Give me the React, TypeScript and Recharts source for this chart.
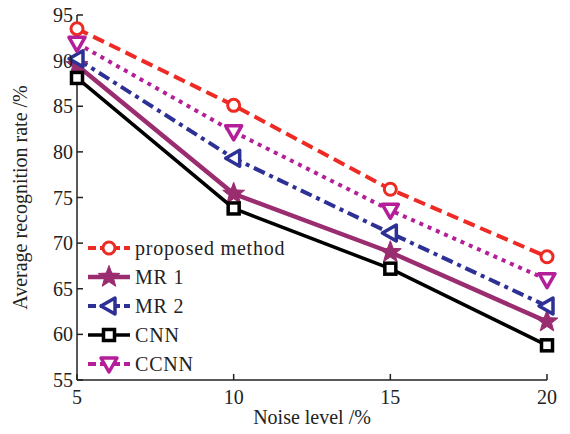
import React from 'react';
import { LineChart, Line, XAxis, YAxis, Legend } from 'recharts';

const noiseLevels = [5, 10, 15, 20];
const proposed = [93.5, 85.1, 75.9, 68.5];
const mr1 = [89.5, 75.4, 69.0, 61.4];
const mr2 = [90.2, 79.3, 71.1, 63.1];
const cnn = [88.1, 73.8, 67.2, 58.8];
const ccnn = [91.9, 82.2, 73.6, 66.0];
const yTicks = [55, 60, 65, 70, 75, 80, 85, 90, 95];

const data = noiseLevels.map((n, i) => ({
  noise: n,
  proposed: proposed[i],
  mr1: mr1[i],
  mr2: mr2[i],
  cnn: cnn[i],
  ccnn: ccnn[i],
}));

const FONT = '"Liberation Serif", "DejaVu Serif", serif';
const RED = '#ee2a24';
const PURPLE = '#9a2d6f';
const BLUE = '#2d3094';
const BLACK = '#000000';
const MAGENTA = '#b41e98';

type Shape = 'circle' | 'star' | 'left' | 'square' | 'down';

function Marker({ shape, cx, cy, color }: { shape: Shape; cx: number; cy: number; color: string }) {
  if (shape === 'circle') {
    return <circle cx={cx} cy={cy} r={6} fill="#fff" stroke={color} strokeWidth={3} />;
  }
  if (shape === 'star') {
    const pts: string[] = [];
    for (let k = 0; k < 10; k++) {
      const r = k % 2 === 0 ? 11.5 : 4.8;
      const a = -Math.PI / 2 + (k * Math.PI) / 5;
      pts.push(`${cx + r * Math.cos(a)},${cy + r * Math.sin(a)}`);
    }
    return <polygon points={pts.join(' ')} fill={color} stroke={color} strokeWidth={1} />;
  }
  if (shape === 'left') {
    return (
      <polygon
        points={`${cx - 8},${cy} ${cx + 6},${cy - 8} ${cx + 6},${cy + 8}`}
        fill="#fff"
        stroke={color}
        strokeWidth={3.5}
        strokeLinejoin="round"
      />
    );
  }
  if (shape === 'down') {
    return (
      <polygon
        points={`${cx},${cy + 8} ${cx - 8},${cy - 6} ${cx + 8},${cy - 6}`}
        fill="#fff"
        stroke={color}
        strokeWidth={3.5}
        strokeLinejoin="round"
      />
    );
  }
  return <rect x={cx - 5.5} y={cy - 5.5} width={11} height={11} fill="#fff" stroke={color} strokeWidth={3.5} />;
}

const series = [
  { key: 'proposed', name: 'proposed method', color: RED, dash: '12 6', width: 4, shape: 'circle' as Shape },
  { key: 'mr1', name: 'MR 1', color: PURPLE, dash: undefined, width: 4.5, shape: 'star' as Shape },
  { key: 'mr2', name: 'MR 2', color: BLUE, dash: '12 5 4 5', width: 4, shape: 'left' as Shape },
  { key: 'cnn', name: 'CNN', color: BLACK, dash: undefined, width: 3.5, shape: 'square' as Shape },
  { key: 'ccnn', name: 'CCNN', color: MAGENTA, dash: '4 5', width: 4, shape: 'down' as Shape },
];

function LegendBox() {
  return (
    <svg width={240} height={150} style={{ display: 'block' }}>
      {series.map((s, i) => {
        const y = 14 + i * 29;
        return (
          <g key={s.key}>
            <line x1={4} x2={46} y1={y} y2={y} stroke={s.color} strokeWidth={s.width} strokeDasharray={s.dash ? '8 4' : undefined} />
            <Marker shape={s.shape} cx={25} cy={y} color={s.color} />
            <text x={51} y={y + 7} fontFamily={FONT} fontSize={20} letterSpacing={0.8} fill="#222">
              {s.name}
            </text>
          </g>
        );
      })}
    </svg>
  );
}

export default function App() {
  return (
    <div style={{ width: 570, height: 434, margin: -8, background: '#fff' }}>
      <LineChart width={570} height={434} data={data} margin={{ top: 15, right: 23, bottom: 0, left: 0 }}>
        <XAxis
          dataKey="noise"
          type="number"
          domain={[5, 20]}
          ticks={noiseLevels}
          interval={0}
          height={54}
          tickSize={-6}
          tickMargin={16}
          tick={{ fill: '#222', fontSize: 20, fontFamily: FONT }}
          axisLine={{ stroke: '#222', strokeWidth: 1.5 }}
          tickLine={{ stroke: '#222', strokeWidth: 1.5 }}
          label={{ value: 'Noise level /%', position: 'insideBottom', offset: 10, fill: '#222', fontSize: 20, fontFamily: FONT }}
        />
        <XAxis xAxisId="top" dataKey="noise" type="number" domain={[5, 20]} orientation="top" height={0} tick={false} tickLine={false} axisLine={{ stroke: '#222', strokeWidth: 1.5 }} />
        <YAxis
          type="number"
          domain={[55, 95]}
          ticks={yTicks}
          interval={0}
          width={77}
          tickSize={-6}
          tickMargin={10}
          tick={{ fill: '#222', fontSize: 20, fontFamily: FONT }}
          axisLine={{ stroke: '#222', strokeWidth: 1.5 }}
          tickLine={{ stroke: '#222', strokeWidth: 1.5 }}
          label={{ value: 'Average recognition rate /%', angle: -90, position: 'insideLeft', offset: 20, style: { textAnchor: 'middle' }, fill: '#222', fontSize: 20, fontFamily: FONT }}
        />
        <YAxis yAxisId="right" orientation="right" domain={[55, 95]} width={0} tick={false} tickLine={false} axisLine={{ stroke: '#222', strokeWidth: 1.5 }} />
        <Legend
          layout="horizontal"
          verticalAlign="middle"
          align="center"
          content={<LegendBox />}
          wrapperStyle={{ left: 84, top: 234, width: 240, height: 150 }}
        />
        {series.map((s) => (
          <Line
            key={s.key}
            dataKey={s.key}
            name={s.name}
            stroke={s.color}
            strokeWidth={s.width}
            strokeDasharray={s.dash}
            isAnimationActive={false}
            dot={(p: any) => <Marker key={`${s.key}-${p.index}`} shape={s.shape} cx={p.cx} cy={p.cy} color={s.color} />}
            activeDot={false}
          />
        ))}
      </LineChart>
    </div>
  );
}
